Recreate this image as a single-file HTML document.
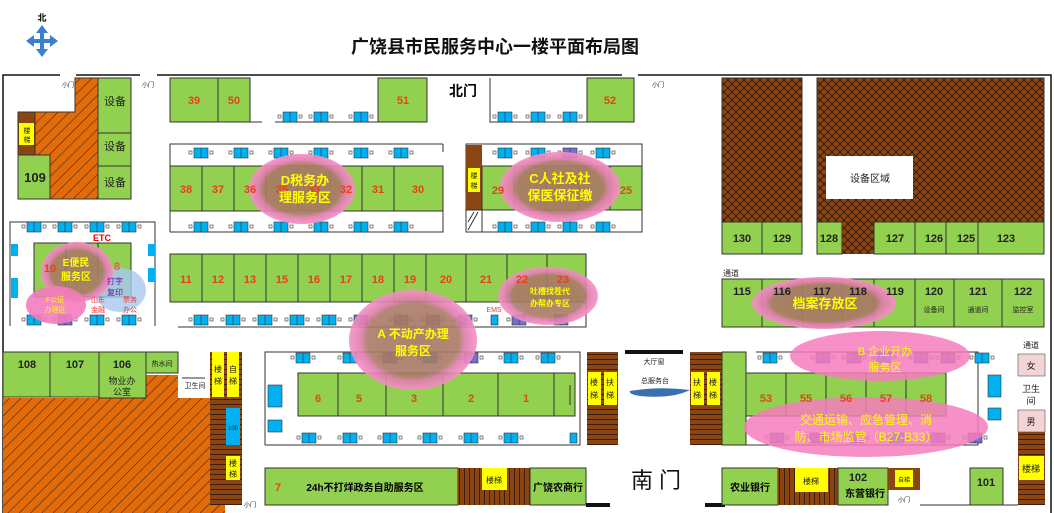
<!DOCTYPE html>
<html><head><meta charset="utf-8"><style>
html,body{margin:0;padding:0;background:#fff}
svg{display:block}
text{font-family:"Liberation Sans","Noto Sans CJK SC",sans-serif}
.n{font-size:11px;font-weight:bold;fill:#e8401c;text-anchor:middle}
.k{font-size:11px;font-weight:bold;fill:#222;text-anchor:middle}
.s{font-size:8px;fill:#222;text-anchor:middle}
.y{font-size:13px;font-weight:bold;fill:#ffff00;text-anchor:middle}
.g{fill:#92d050;stroke:#333;stroke-width:1}
.o{fill:none;stroke:#111;stroke-width:1.5}
</style></head><body>
<svg width="1054" height="513" viewBox="0 0 1054 513" xmlns="http://www.w3.org/2000/svg">
<defs>
<pattern id="dg" width="8" height="8" patternUnits="userSpaceOnUse" patternTransform="rotate(45)"><rect width="8" height="8" fill="#e36c09"/><line x1="0" y1="0" x2="0" y2="8" stroke="#3a2a1a" stroke-width="1.2"/></pattern>
<pattern id="ch" width="8" height="8" patternUnits="userSpaceOnUse"><rect width="8" height="8" fill="#8a4513"/><path d="M0 0L8 8M8 0L0 8" stroke="#2a1505" stroke-width="0.8"/></pattern>
<pattern id="st" width="6" height="5" patternUnits="userSpaceOnUse"><rect width="6" height="5" fill="#8a4513"/><line x1="0" y1="4.5" x2="6" y2="4.5" stroke="#2a1505" stroke-width="0.8"/></pattern>
<pattern id="vs" width="5" height="6" patternUnits="userSpaceOnUse"><rect width="5" height="6" fill="#8a4513"/><line x1="4.5" y1="0" x2="4.5" y2="6" stroke="#2a1505" stroke-width="0.8"/></pattern>
<radialGradient id="pk"><stop offset="0" stop-color="#a47660"/><stop offset="0.72" stop-color="#aa7a66"/><stop offset="0.82" stop-color="#e07cae"/><stop offset="1" stop-color="#f590c6"/></radialGradient>
<g id="dk"><rect x="-5" y="3" width="3" height="3" fill="#fff" stroke="#333" stroke-width="0.6"/><rect x="0" y="0" width="14" height="10" fill="#00b0f0" stroke="#333" stroke-width="0.6"/><line x1="7" y1="0" x2="7" y2="10" stroke="#333" stroke-width="0.6"/><rect x="16" y="3" width="3" height="3" fill="#fff" stroke="#333" stroke-width="0.6"/></g>
<g id="dp"><rect x="-5" y="3" width="3" height="3" fill="#fff" stroke="#333" stroke-width="0.6"/><rect x="0" y="0" width="14" height="10" fill="#7070d0" stroke="#333" stroke-width="0.6"/><line x1="7" y1="0" x2="7" y2="10" stroke="#333" stroke-width="0.6"/><rect x="16" y="3" width="3" height="3" fill="#fff" stroke="#333" stroke-width="0.6"/></g>
</defs>

<text x="495" y="53" style="font-size:18px;font-weight:bold;text-anchor:middle" fill="#111">广饶县市民服务中心一楼平面布局图</text>
<text x="42" y="21" style="font-size:9px;font-weight:bold;text-anchor:middle">北</text>
<g fill="#3a7fd0"><path d="M42 25l6 8h-4v6h6v-4l8 6-8 6v-4h-6v6h4l-6 8-6-8h4v-6h-6v4l-8-6 8-6v4h6v-6h-4z"/></g>

<path d="M3 513V75H60M76 75H140M157 75H622M638 75H1051V513" class="o"/>
<text x="68" y="87" class="s" style="font-size:6px">小门</text>
<text x="148" y="87" class="s" style="font-size:6px">小门</text>
<text x="658" y="87" class="s" style="font-size:6px">小门</text>

<path d="M35 112H75V78H98V199H50V155H35Z" fill="url(#dg)" stroke="#333"/>
<rect x="18" y="112" width="17" height="43" fill="#8a4513" stroke="#333"/>
<rect x="19" y="123" width="15" height="22" fill="#ffff00"/>
<text x="27" y="133" class="s" style="font-size:7px">楼</text><text x="27" y="142" class="s" style="font-size:7px">梯</text>
<rect x="18" y="155" width="32" height="44" class="g"/><text x="35" y="182" class="k" style="font-size:13px">109</text>
<rect x="98" y="78" width="33" height="55" class="g"/><text x="115" y="105" class="k" style="font-weight:normal">设备</text>
<rect x="98" y="133" width="33" height="33" class="g"/><text x="115" y="150" class="k" style="font-weight:normal">设备</text>
<rect x="98" y="166" width="33" height="33" class="g"/><text x="115" y="186" class="k" style="font-weight:normal">设备</text>

<path d="M10 326V222H155V326" fill="none" stroke="#333"/>
<rect x="34" y="243" width="32" height="54" class="g"/><rect x="66" y="243" width="32" height="54" class="g"/><rect x="98" y="243" width="33" height="54" class="g"/>
<text x="102" y="241" style="font-size:9px;font-weight:bold;fill:#e00;text-anchor:middle">ETC</text>
<use href="#dk" x="27" y="222"/><use href="#dk" x="58" y="222"/><use href="#dk" x="90" y="222"/><use href="#dk" x="122" y="222"/>
<use href="#dk" x="27" y="315"/><use href="#dp" x="58" y="315"/><use href="#dk" x="90" y="315"/><use href="#dk" x="122" y="315"/>
<rect x="11" y="244" width="7" height="12" fill="#00b0f0"/><rect x="11" y="278" width="7" height="20" fill="#00b0f0"/>
<rect x="148" y="244" width="7" height="12" fill="#00b0f0"/><rect x="148" y="268" width="7" height="14" fill="#00b0f0"/>
<ellipse cx="120" cy="290" rx="26" ry="22" fill="#a8c8f0" opacity="0.8"/>
<ellipse cx="77" cy="272" rx="36" ry="30" fill="url(#pk)" opacity="0.9"/>
<ellipse cx="56" cy="305" rx="30" ry="19" fill="#f47cbc" opacity="0.9"/>
<text x="50" y="272" class="n">10</text><text x="117" y="270" class="n" style="fill:#e55">8</text>
<text x="76" y="266" style="font-size:10px;font-weight:bold;fill:#ff0;text-anchor:middle">E便民</text>
<text x="76" y="280" style="font-size:10px;font-weight:bold;fill:#ff0;text-anchor:middle">服务区</text>
<text x="115" y="284" class="s" style="fill:#70c">打字</text><text x="115" y="295" class="s" style="fill:#70c">复印</text>
<text x="55" y="302" style="font-size:7px;fill:#ff0;text-anchor:middle">F公证</text><text x="55" y="312" style="font-size:7px;fill:#ff0;text-anchor:middle">办理区</text>
<text x="98" y="302" class="s" style="fill:#e33;font-size:7px">山东</text><text x="98" y="312" class="s" style="fill:#e33;font-size:7px">金融</text>
<text x="130" y="302" class="s" style="fill:#e33;font-size:7px">票务</text><text x="130" y="312" class="s" style="fill:#e33;font-size:7px">办公</text>

<rect x="170" y="78" width="48" height="44" class="g"/><rect x="218" y="78" width="32" height="44" class="g"/>
<text x="194" y="104" class="n">39</text><text x="234" y="104" class="n">50</text>
<path d="M250 122H262M275 122H378" stroke="#333"/>
<rect x="378" y="78" width="49" height="44" class="g"/><text x="403" y="104" class="n">51</text>
<use href="#dk" x="283" y="112"/><use href="#dk" x="314" y="112"/><use href="#dk" x="354" y="112"/>
<text x="463" y="96" style="font-size:14px;font-weight:bold;text-anchor:middle">北门</text>

<path d="M170 232V144H443M443 144V152M443 170V232H170" fill="none" stroke="#333"/>
<g>
<rect x="170" y="166" width="32" height="45" class="g"/><rect x="202" y="166" width="32" height="45" class="g"/><rect x="234" y="166" width="32" height="45" class="g"/><rect x="266" y="166" width="32" height="45" class="g"/><rect x="298" y="166" width="32" height="45" class="g"/><rect x="330" y="166" width="32" height="45" class="g"/><rect x="362" y="166" width="32" height="45" class="g"/><rect x="394" y="166" width="49" height="45" class="g"/>
</g>
<use href="#dk" x="194" y="148"/><use href="#dk" x="234" y="148"/><use href="#dk" x="274" y="148"/><use href="#dk" x="314" y="148"/><use href="#dk" x="354" y="148"/><use href="#dk" x="394" y="148"/>
<use href="#dk" x="194" y="222"/><use href="#dk" x="234" y="222"/><use href="#dk" x="274" y="222"/><use href="#dk" x="314" y="222"/><use href="#dk" x="354" y="222"/><use href="#dk" x="394" y="222"/>
<ellipse cx="302" cy="189" rx="53" ry="35" fill="url(#pk)" opacity="0.92"/>
<text x="186" y="193" class="n">38</text><text x="218" y="193" class="n">37</text><text x="250" y="193" class="n">36</text><text x="282" y="193" class="n">35</text><text x="314" y="193" class="n">33</text><text x="346" y="193" class="n">32</text><text x="378" y="193" class="n">31</text><text x="418" y="193" class="n">30</text>
<text x="305" y="185" class="y">D税务办</text><text x="305" y="202" class="y">理服务区</text>

<g>
<rect x="170" y="254" width="32" height="48" class="g"/><rect x="202" y="254" width="32" height="48" class="g"/><rect x="234" y="254" width="32" height="48" class="g"/><rect x="266" y="254" width="32" height="48" class="g"/><rect x="298" y="254" width="32" height="48" class="g"/><rect x="330" y="254" width="32" height="48" class="g"/><rect x="362" y="254" width="32" height="48" class="g"/><rect x="394" y="254" width="32" height="48" class="g"/><rect x="426" y="254" width="40" height="48" class="g"/><rect x="466" y="254" width="41" height="48" class="g"/><rect x="507" y="254" width="40" height="48" class="g"/><rect x="547" y="254" width="39" height="48" class="g"/>
</g>
<path d="M178 327H586V302" fill="none" stroke="#333"/>
<use href="#dk" x="194" y="315"/><use href="#dk" x="226" y="315"/><use href="#dk" x="258" y="315"/><use href="#dk" x="290" y="315"/><use href="#dk" x="322" y="315"/><use href="#dp" x="354" y="315"/><use href="#dp" x="394" y="315"/><use href="#dp" x="426" y="315"/><use href="#dp" x="458" y="315"/><rect x="491" y="315" width="7" height="10" fill="#00b0f0" stroke="#333" stroke-width="0.6"/><use href="#dp" x="512" y="315"/><use href="#dp" x="554" y="315"/>
<text x="494" y="312" style="font-size:7px;fill:#e33;text-anchor:middle">EMS</text>
<ellipse cx="548" cy="296" rx="50" ry="29" fill="url(#pk)" opacity="0.9"/>
<text x="186" y="283" class="n">11</text><text x="218" y="283" class="n">12</text><text x="250" y="283" class="n">13</text><text x="282" y="283" class="n">15</text><text x="314" y="283" class="n">16</text><text x="346" y="283" class="n">17</text><text x="378" y="283" class="n">18</text><text x="410" y="283" class="n">19</text><text x="446" y="283" class="n">20</text><text x="486" y="283" class="n">21</text><text x="522" y="283" class="n">22</text><text x="563" y="283" class="n">23</text>
<text x="550" y="294" style="font-size:8px;font-weight:bold;fill:#ff0;text-anchor:middle">吐槽找茬代</text><text x="550" y="306" style="font-size:8px;font-weight:bold;fill:#ff0;text-anchor:middle">办帮办专区</text>

<path d="M490 78V122H587" fill="none" stroke="#333"/>
<rect x="587" y="78" width="47" height="44" class="g"/><text x="610" y="104" class="n">52</text>
<use href="#dk" x="498" y="112"/><use href="#dk" x="531" y="112"/><use href="#dk" x="563" y="112"/>

<path d="M466 232V144H642V232H466" fill="none" stroke="#333"/>
<rect x="466" y="145" width="16" height="65" fill="#8a4513"/><rect x="468" y="168" width="12" height="24" fill="#ff0"/>
<text x="474" y="178" class="s" style="font-size:7px">楼</text><text x="474" y="188" class="s" style="font-size:7px">梯</text>
<rect x="466" y="210" width="16" height="22" fill="#fff" stroke="#333"/><path d="M468 230L478 212M468 222L474 212" stroke="#333"/>
<rect x="482" y="166" width="32" height="44" class="g"/><rect x="514" y="166" width="32" height="44" class="g"/><rect x="546" y="166" width="32" height="44" class="g"/><rect x="578" y="166" width="32" height="44" class="g"/><rect x="610" y="166" width="32" height="44" class="g"/>
<use href="#dk" x="498" y="148"/><use href="#dk" x="531" y="148"/><use href="#dp" x="563" y="148"/><use href="#dk" x="596" y="148"/>
<use href="#dk" x="498" y="222"/><use href="#dk" x="531" y="222"/><use href="#dk" x="563" y="222"/><use href="#dk" x="596" y="222"/>
<ellipse cx="560" cy="187" rx="60" ry="35" fill="url(#pk)" opacity="0.92"/>
<text x="498" y="194" class="n">29</text><text x="626" y="194" class="n">25</text>
<text x="560" y="183" class="y">C人社及社</text><text x="560" y="200" class="y">保医保征缴</text>

<rect x="722" y="78" width="80" height="144" fill="url(#ch)" stroke="#333"/>
<rect x="817" y="78" width="227" height="144" fill="url(#ch)" stroke="#333"/>
<rect x="826" y="156" width="87" height="43" fill="#fff"/>
<text x="870" y="182" class="s" style="font-size:10px">设备区域</text>
<rect x="722" y="222" width="40" height="32" class="g"/><rect x="762" y="222" width="40" height="32" class="g"/><rect x="817" y="222" width="25" height="32" class="g"/><rect x="842" y="222" width="32" height="32" fill="url(#ch)"/><rect x="874" y="222" width="41" height="32" class="g"/><rect x="915" y="222" width="31" height="32" class="g"/><rect x="946" y="222" width="32" height="32" class="g"/><rect x="978" y="222" width="66" height="32" class="g"/>
<text x="742" y="242" class="k">130</text><text x="782" y="242" class="k">129</text><text x="829" y="242" class="k">128</text><text x="895" y="242" class="k">127</text><text x="934" y="242" class="k">126</text><text x="966" y="242" class="k">125</text><text x="1006" y="242" class="k">123</text>
<text x="731" y="276" class="s" style="font-size:8px">通道</text>
<rect x="722" y="279" width="40" height="48" class="g"/><rect x="762" y="279" width="40" height="48" class="g"/><rect x="802" y="279" width="40" height="48" class="g"/><rect x="842" y="279" width="32" height="48" class="g"/><rect x="874" y="279" width="41" height="48" class="g"/><rect x="915" y="279" width="39" height="48" class="g"/><rect x="954" y="279" width="48" height="48" class="g"/><rect x="1002" y="279" width="42" height="48" class="g"/>
<ellipse cx="824" cy="303" rx="72" ry="26" fill="url(#pk)" opacity="0.92"/>
<text x="742" y="295" class="k">115</text><text x="782" y="295" class="k">116</text><text x="822" y="295" class="k">117</text><text x="858" y="295" class="k">118</text><text x="895" y="295" class="k">119</text><text x="934" y="295" class="k">120</text><text x="978" y="295" class="k">121</text><text x="1023" y="295" class="k">122</text>
<text x="934" y="312" class="s" style="font-size:7px">设备间</text><text x="978" y="312" class="s" style="font-size:7px">通道间</text><text x="1023" y="312" class="s" style="font-size:7px">监控室</text>
<text x="825" y="308" class="y">档案存放区</text>

<path d="M3 398H146V375H178V398H210V513H3Z" fill="url(#dg)"/>
<path d="M210 398H225V513H210Z" fill="url(#dg)"/>
<rect x="3" y="352" width="47" height="45" class="g"/><rect x="50" y="352" width="49" height="45" class="g"/><rect x="99" y="352" width="47" height="46" class="g"/><rect x="146" y="352" width="32" height="21" class="g"/>
<text x="27" y="368" class="k">108</text><text x="75" y="368" class="k">107</text><text x="122" y="368" class="k">106</text>
<text x="162" y="366" class="s" style="font-size:7px">热水间</text>
<text x="122" y="384" class="s" style="font-size:9px">物业办</text><text x="122" y="395" class="s" style="font-size:9px">公室</text>
<text x="195" y="388" class="s" style="font-size:7px">卫生间</text>
<line x1="182" y1="378" x2="205" y2="378" stroke="#333"/>
<rect x="210" y="352" width="32" height="153" fill="url(#st)"/>
<rect x="212" y="352" width="12" height="45" fill="#ff0"/><rect x="227" y="352" width="12" height="45" fill="#ff0"/>
<text x="218" y="372" class="s" style="font-size:8px">楼</text><text x="218" y="384" class="s" style="font-size:8px">梯</text>
<text x="233" y="372" class="s" style="font-size:8px">自</text><text x="233" y="384" class="s" style="font-size:8px">梯</text>
<rect x="226" y="408" width="14" height="37" fill="#00b0f0"/><text x="233" y="430" class="s" style="font-size:6px">100</text>
<rect x="226" y="456" width="14" height="24" fill="#ff0"/><text x="233" y="466" class="s" style="font-size:8px">楼</text><text x="233" y="477" class="s" style="font-size:8px">梯</text>
<text x="250" y="507" class="s" style="font-size:6px">小门</text>

<path d="M265 445V352H580V445H265" fill="none" stroke="#333"/>
<rect x="298" y="373" width="40" height="43" class="g"/><rect x="338" y="373" width="48" height="43" class="g"/><rect x="386" y="373" width="57" height="43" class="g"/><rect x="443" y="373" width="55" height="43" class="g"/><rect x="498" y="373" width="56" height="43" class="g"/><rect x="554" y="373" width="21" height="43" class="g"/>
<line x1="570" y1="385" x2="570" y2="405" stroke="#333"/>
<rect x="268" y="385" width="14" height="22" fill="#00b0f0" stroke="#333" stroke-width="0.6"/><rect x="268" y="420" width="14" height="12" fill="#00b0f0" stroke="#333" stroke-width="0.6"/>
<use href="#dk" x="296" y="353"/><use href="#dk" x="343" y="353"/><use href="#dp" x="383" y="353"/><use href="#dk" x="423" y="353"/><use href="#dp" x="464" y="353"/><use href="#dk" x="504" y="353"/><use href="#dk" x="541" y="353"/>
<use href="#dk" x="302" y="433"/><use href="#dk" x="343" y="433"/><use href="#dk" x="383" y="433"/><use href="#dk" x="423" y="433"/><use href="#dk" x="464" y="433"/><use href="#dk" x="504" y="433"/><rect x="570" y="433" width="7" height="10" fill="#00b0f0" stroke="#333" stroke-width="0.6"/>
<ellipse cx="413" cy="340" rx="64" ry="50" fill="url(#pk)" opacity="0.9"/>
<text x="318" y="402" class="n">6</text><text x="359" y="402" class="n">5</text><text x="414" y="402" class="n">3</text><text x="471" y="402" class="n">2</text><text x="526" y="402" class="n">1</text>
<text x="413" y="338" class="y" style="font-size:12px">A 不动产办理</text><text x="413" y="355" class="y" style="font-size:12px">服务区</text>
<rect x="587" y="352" width="31" height="93" fill="url(#st)"/>
<rect x="588" y="372" width="13" height="33" fill="#ff0"/><rect x="604" y="372" width="13" height="33" fill="#ff0"/>
<text x="594" y="385" class="s" style="font-size:8px">楼</text><text x="594" y="398" class="s" style="font-size:8px">梯</text><text x="610" y="385" class="s" style="font-size:8px">扶</text><text x="610" y="398" class="s" style="font-size:8px">梯</text>

<rect x="625" y="350" width="58" height="4" fill="#111"/>
<text x="654" y="364" class="s" style="font-size:7px">大厅窗</text>
<text x="655" y="383" class="s" style="font-size:7px">总服务台</text>
<path d="M630 391Q660 386 690 390Q672 399 640 396Q628 394 630 391Z" fill="#3a6fb0"/>
<text x="656" y="488" style="font-size:22px;text-anchor:middle" fill="#111">南 门</text>

<rect x="690" y="352" width="32" height="93" fill="url(#st)"/>
<rect x="691" y="372" width="13" height="33" fill="#ff0"/><rect x="707" y="372" width="13" height="33" fill="#ff0"/>
<text x="697" y="385" class="s" style="font-size:8px">扶</text><text x="697" y="398" class="s" style="font-size:8px">梯</text><text x="713" y="385" class="s" style="font-size:8px">楼</text><text x="713" y="398" class="s" style="font-size:8px">梯</text>
<rect x="722" y="352" width="24" height="93" class="g"/>
<path d="M756 352H978V445H746" fill="none" stroke="#333"/>
<rect x="746" y="373" width="40" height="43" class="g"/><rect x="786" y="373" width="40" height="43" class="g"/><rect x="826" y="373" width="40" height="43" class="g"/><rect x="866" y="373" width="40" height="43" class="g"/><rect x="906" y="373" width="40" height="43" class="g"/>
<use href="#dk" x="763" y="353"/><use href="#dp" x="816" y="353"/><use href="#dp" x="847" y="353"/><use href="#dk" x="877" y="353"/><use href="#dp" x="914" y="353"/><use href="#dp" x="941" y="353"/><use href="#dk" x="975" y="353"/>
<use href="#dp" x="770" y="433"/><use href="#dp" x="810" y="433"/><use href="#dp" x="850" y="433"/><use href="#dk" x="890" y="433"/><use href="#dp" x="931" y="433"/><use href="#dp" x="968" y="433"/>
<rect x="988" y="375" width="13" height="22" fill="#00b0f0" stroke="#333" stroke-width="0.6"/><rect x="988" y="408" width="13" height="12" fill="#00b0f0" stroke="#333" stroke-width="0.6"/>
<ellipse cx="880" cy="356" rx="90" ry="25" fill="#f47cbc" opacity="0.85"/>
<ellipse cx="866" cy="427" rx="122" ry="30" fill="#f47cbc" opacity="0.85"/>
<text x="766" y="402" class="n">53</text><text x="806" y="402" class="n">55</text><text x="846" y="402" class="n">56</text><text x="886" y="402" class="n">57</text><text x="926" y="402" class="n">58</text>
<text x="885" y="355" class="y" style="font-size:11px;font-weight:normal">B 企业开办</text><text x="885" y="371" class="y" style="font-size:11px;font-weight:normal">服务区</text>
<text x="866" y="424" class="y" style="font-size:12px;font-weight:normal">交通运输、应急管理、消</text><text x="866" y="441" class="y" style="font-size:12px;font-weight:normal">防、市场监管（B27-B33）</text>

<text x="1031" y="348" class="s" style="font-size:8px">通道</text>
<rect x="1018" y="354" width="27" height="22" fill="#f2d4d4" stroke="#333" stroke-width="0.5"/><text x="1031" y="369" class="s" style="font-size:9px">女</text>
<text x="1031" y="392" class="s" style="font-size:9px">卫生</text><text x="1031" y="404" class="s" style="font-size:9px">间</text>
<rect x="1018" y="410" width="27" height="22" fill="#f2d4d4" stroke="#333" stroke-width="0.5"/><text x="1031" y="425" class="s" style="font-size:9px">男</text>
<rect x="1018" y="432" width="27" height="73" fill="url(#st)"/>
<rect x="1019" y="456" width="25" height="24" fill="#ff0"/><text x="1031" y="472" class="s" style="font-size:9px">楼梯</text>

<rect x="265" y="468" width="193" height="37" class="g"/>
<text x="278" y="491" class="n">7</text>
<text x="365" y="491" style="font-size:10px;font-weight:bold;text-anchor:middle">24h不打烊政务自助服务区</text>
<rect x="458" y="468" width="72" height="37" fill="url(#vs)"/><rect x="482" y="468" width="25" height="22" fill="#ff0"/><text x="494" y="483" class="s" style="font-size:8px">楼梯</text>
<rect x="530" y="468" width="56" height="37" class="g"/><text x="558" y="491" style="font-size:10px;font-weight:bold;text-anchor:middle">广饶农商行</text>
<rect x="586" y="503" width="24" height="4" fill="#111"/><rect x="705" y="503" width="20" height="4" fill="#111"/>
<rect x="722" y="468" width="56" height="37" class="g"/><text x="750" y="491" style="font-size:10px;font-weight:bold;text-anchor:middle">农业银行</text>
<rect x="778" y="468" width="60" height="37" fill="url(#vs)"/><rect x="795" y="468" width="33" height="24" fill="#ff0"/><text x="811" y="484" class="s" style="font-size:8px">楼梯</text>
<rect x="838" y="468" width="50" height="37" class="g"/><text x="858" y="481" class="k">102</text><text x="865" y="497" style="font-size:10px;font-weight:bold;text-anchor:middle">东营银行</text>
<rect x="888" y="468" width="32" height="22" fill="#8a4513"/><rect x="895" y="470" width="18" height="17" fill="#ff0"/><text x="904" y="482" class="s" style="font-size:6px">自梯</text>
<text x="904" y="502" class="s" style="font-size:6px">小门</text>
<path d="M920 505H1018" stroke="#333"/>
<rect x="970" y="468" width="33" height="37" class="g"/><text x="986" y="486" class="k">101</text>
</svg>
</body></html>
